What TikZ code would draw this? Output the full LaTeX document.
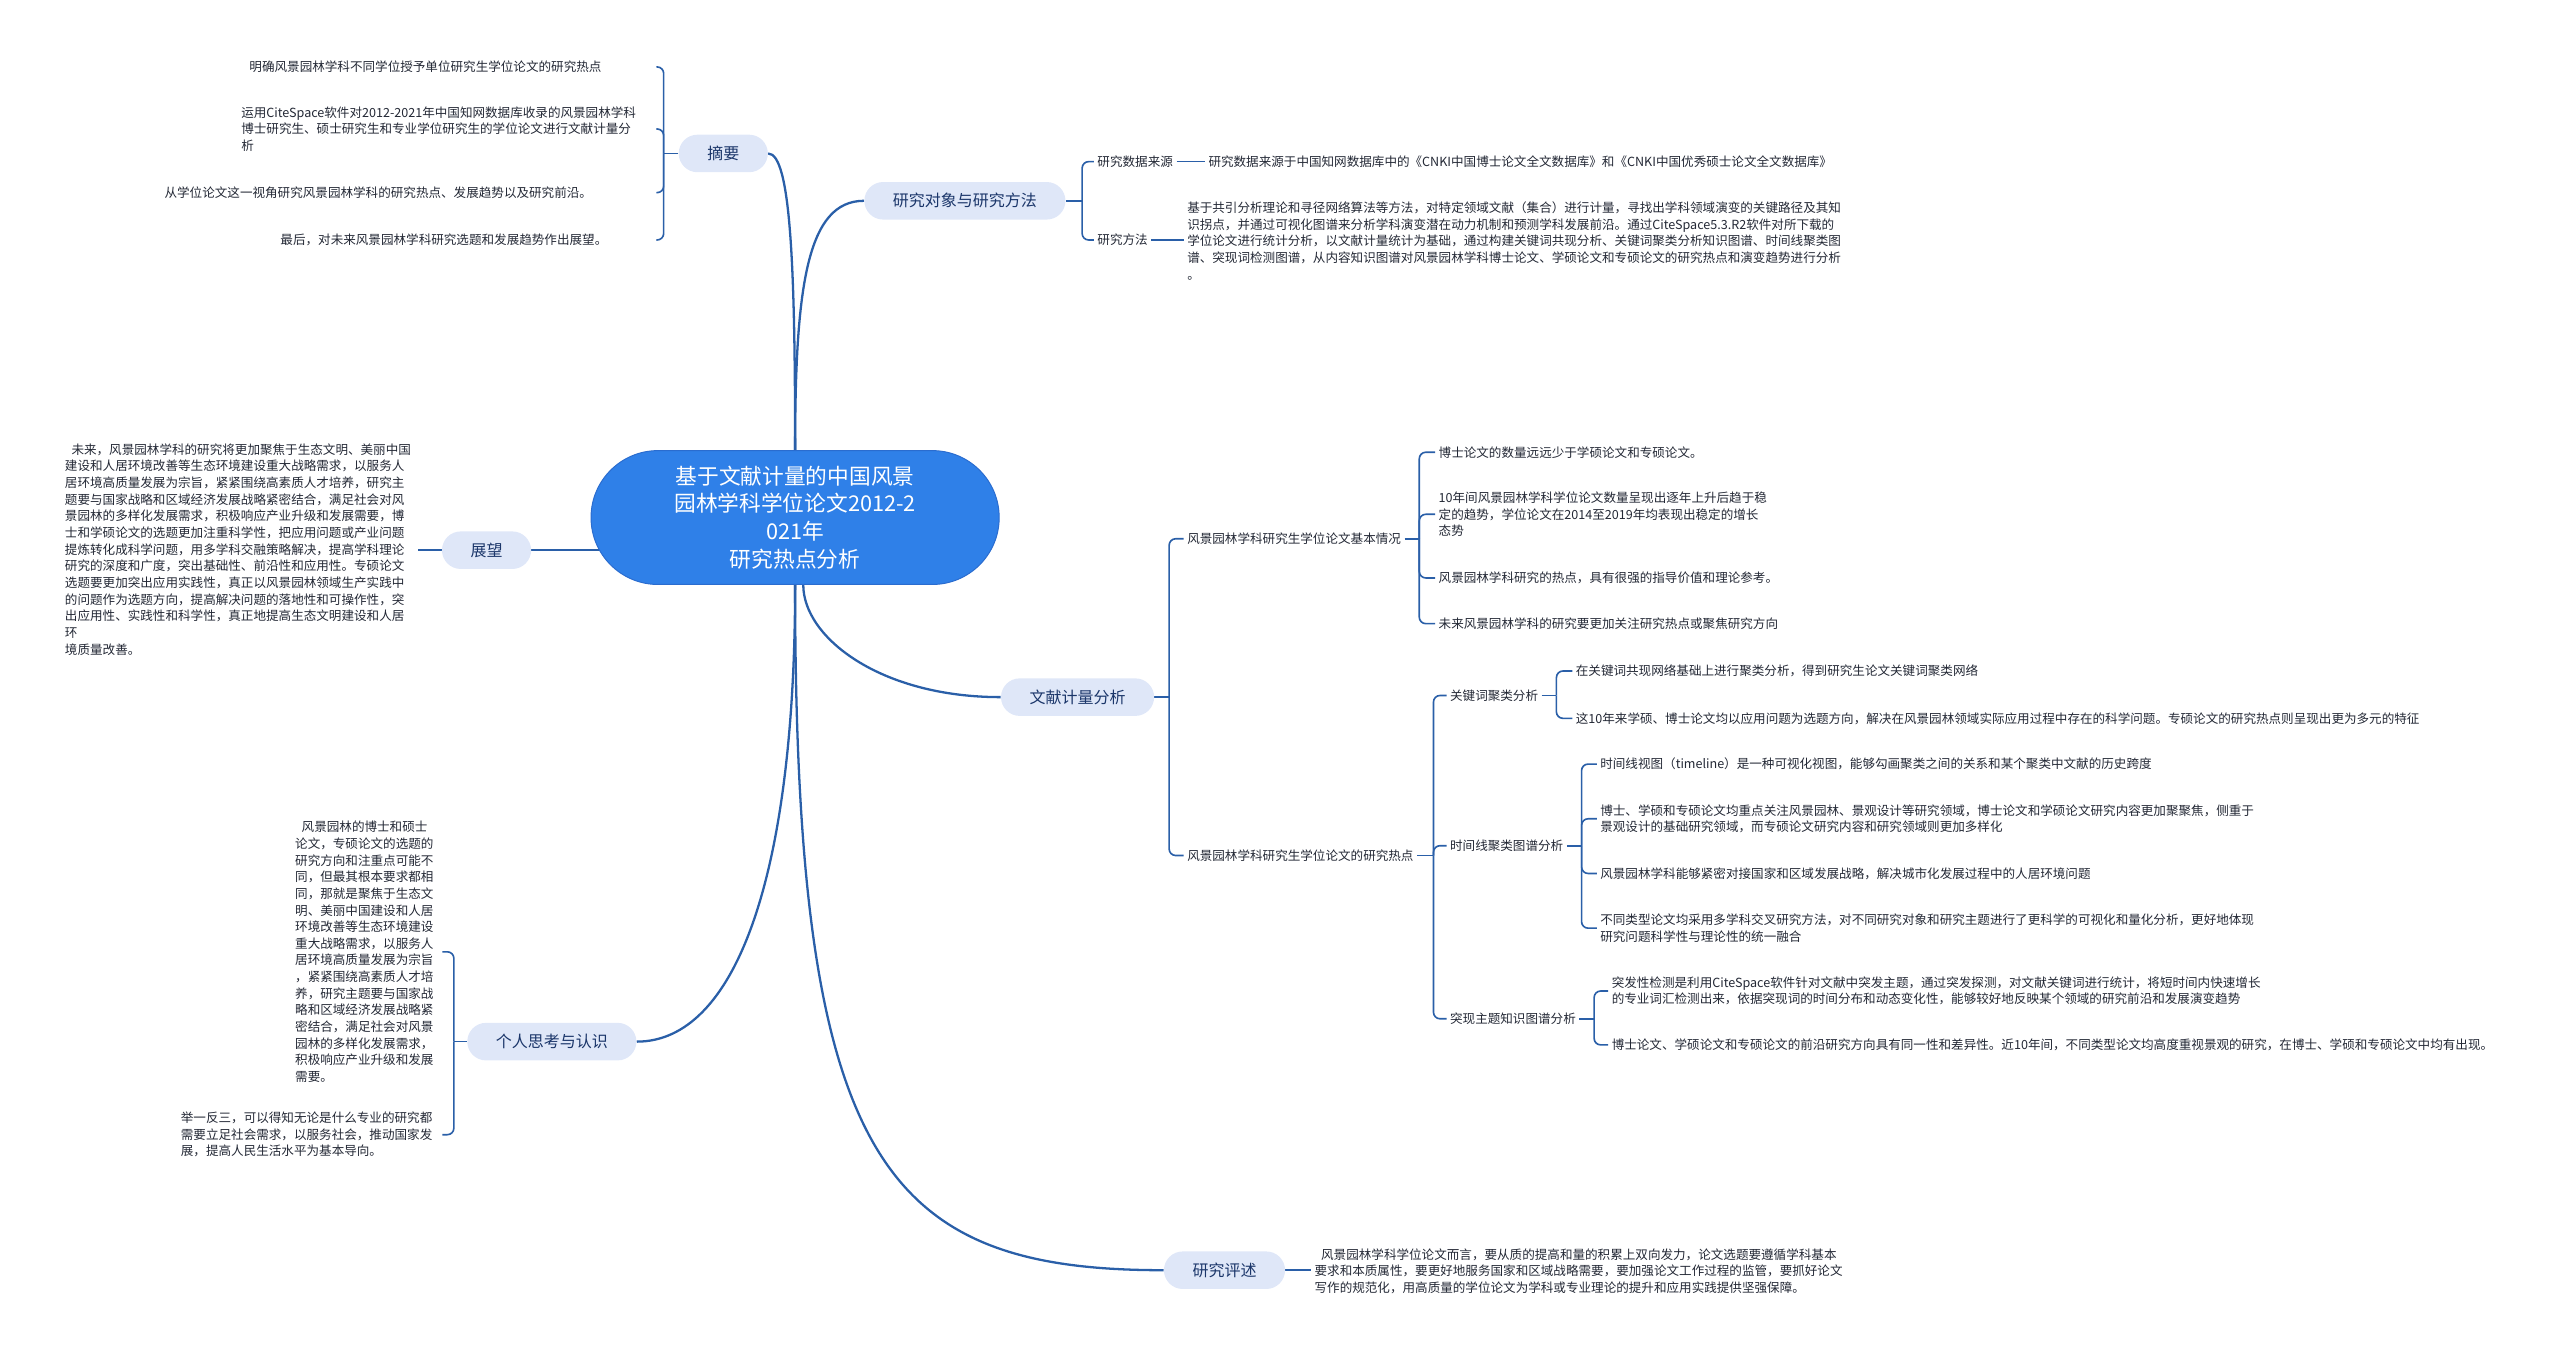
\documentclass[tikz,border=0pt]{standalone}
\usepackage{fontspec}
\setmainfont{Noto Sans CJK SC}
\definecolor{linkblue}{HTML}{2A5FA8}
\definecolor{rootblue}{HTML}{2F80E8}
\definecolor{rootedge}{HTML}{2A6CCF}
\definecolor{topicfill}{HTML}{DFE7F8}
\definecolor{topictext}{HTML}{1B366A}
\definecolor{leafgray}{HTML}{232835}
\pgfdeclarelayer{bg}
\pgfsetlayers{bg,main}

\begin{document}
\begin{tikzpicture}[x=1pt, y=1pt,
  root/.style={fill=rootblue, draw=rootedge, line width=0.6pt, rounded corners=41pt,
    minimum width=250pt, minimum height=82pt, inner sep=0pt, text=white, align=center,
    font=\fontsize{13.3}{17}\selectfont},
  topic/.style={fill=topicfill, rounded corners=11.5pt, minimum height=23pt,
    inner xsep=17.5pt, inner ysep=0pt, text=topictext, font=\fontsize{9.8}{12}\selectfont},
  sub/.style={text=leafgray, inner sep=2pt, font=\fontsize{7.7}{10.2}\selectfont},
  leaf/.style={sub, align=left},
  link/.style={draw=linkblue, line width=1.4pt},
  brace/.style={draw=linkblue, line width=1pt, rounded corners=4pt}]
\useasboundingbox (0,0) rectangle (1568,830);

% centre
\node[root] (root) at (487,513) {基于文献计量的中国风景\\园林学科学位论文2012-2\\021年\\研究热点分析};

% left: abstract
\node[topic] (abs) at (443,736) {摘要};
\node[leaf, anchor=east, text width=247pt] (a1) at (402,789) {明确风景园林学科不同学位授予单位研究生学位论文的研究热点};
\node[leaf, anchor=east, text width=252pt] (a2) at (402,751) {运用CiteSpace软件对2012-2021年中国知网数据库收录的风景园林学科\\博士研究生、硕士研究生和专业学位研究生的学位论文进行文献计量分\\析};
\node[leaf, anchor=east, text width=299pt] (a3) at (402,712) {从学位论文这一视角研究风景园林学科的研究热点、发展趋势以及研究前沿。};
\node[leaf, anchor=east, text width=228pt] (a4) at (402,683) {最后，对未来风景园林学科研究选题和发展趋势作出展望。};

% left: outlook
\node[topic] (out) at (298,493) {展望};
\node[leaf, anchor=east, text width=214pt] (ov) at (256,493.5) {\hspace{4pt}未来，风景园林学科的研究将更加聚焦于生态文明、美丽中国\\
建设和人居环境改善等生态环境建设重大战略需求，以服务人\\
居环境高质量发展为宗旨，紧紧围绕高素质人才培养，研究主\\
题要与国家战略和区域经济发展战略紧密结合，满足社会对风\\
景园林的多样化发展需求，积极响应产业升级和发展需要，博\\
士和学硕论文的选题更加注重科学性，把应用问题或产业问题\\
提炼转化成科学问题，用多学科交融策略解决，提高学科理论\\
研究的深度和广度，突出基础性、前沿性和应用性。专硕论文\\
选题要更加突出应用实践性，真正以风景园林领域生产实践中\\
的问题作为选题方向，提高解决问题的落地性和可操作性，突\\
出应用性、实践性和科学性，真正地提高生态文明建设和人居\\
环\\
境质量改善。};

% left: personal view
\node[topic] (pers) at (338,192) {个人思考与认识};
\node[leaf, anchor=east, text width=88pt] (p1) at (271,247) {\hspace{4pt}风景园林的博士和硕士\\
论文，专硕论文的选题的\\
研究方向和注重点可能不\\
同，但最其根本要求都相\\
同，那就是聚焦于生态文\\
明、美丽中国建设和人居\\
环境改善等生态环境建设\\
重大战略需求，以服务人\\
居环境高质量发展为宗旨\\
，紧紧围绕高素质人才培\\
养，研究主题要与国家战\\
略和区域经济发展战略紧\\
密结合，满足社会对风景\\
园林的多样化发展需求，\\
积极响应产业升级和发展\\
需要。};
\node[leaf, anchor=east, text width=158pt] (p2) at (271,135) {举一反三，可以得知无论是什么专业的研究都\\
需要立足社会需求，以服务社会，推动国家发\\
展，提高人民生活水平为基本导向。};

% right: data and method
\node[topic] (obj) at (591,707) {研究对象与研究方法};
\node[sub, anchor=west] (src) at (670,731) {研究数据来源};
\node[sub, anchor=west] (meth) at (670,683) {研究方法};
\node[leaf, anchor=west] (srcL) at (738,731) {研究数据来源于中国知网数据库中的《CNKI中国博士论文全文数据库》和《CNKI中国优秀硕士论文全文数据库》};
\node[leaf, anchor=west] (methL) at (725,682.5) {基于共引分析理论和寻径网络算法等方法，对特定领域文献（集合）进行计量，寻找出学科领域演变的关键路径及其知\\
识拐点，并通过可视化图谱来分析学科演变潜在动力机制和预测学科发展前沿。通过CiteSpace5.3.R2软件对所下载的\\
学位论文进行统计分析，以文献计量统计为基础，通过构建关键词共现分析、关键词聚类分析知识图谱、时间线聚类图\\
谱、突现词检测图谱，从内容知识图谱对风景园林学科博士论文、学硕论文和专硕论文的研究热点和演变趋势进行分析\\
。};

% right: bibliometrics
\node[topic] (bib) at (660,403) {文献计量分析};
\node[sub, anchor=west] (b1) at (725,500) {风景园林学科研究生学位论文基本情况};
\node[leaf, anchor=west] (c1) at (879,553) {博士论文的数量远远少于学硕论文和专硕论文。};
\node[leaf, anchor=west] (c2) at (879,515) {10年间风景园林学科学位论文数量呈现出逐年上升后趋于稳\\定的趋势，学位论文在2014至2019年均表现出稳定的增长\\态势};
\node[leaf, anchor=west] (c3) at (879,476) {风景园林学科研究的热点，具有很强的指导价值和理论参考。};
\node[leaf, anchor=west] (c4) at (879,448) {未来风景园林学科的研究要更加关注研究热点或聚焦研究方向};

\node[sub, anchor=west] (b2) at (725,306) {风景园林学科研究生学位论文的研究热点};
\node[sub, anchor=west] (d1) at (886,404) {关键词聚类分析};
\node[sub, anchor=west] (d2) at (886,312) {时间线聚类图谱分析};
\node[sub, anchor=west] (d3) at (886,206) {突现主题知识图谱分析};
\node[leaf, anchor=west] (e1) at (963,419) {在关键词共现网络基础上进行聚类分析，得到研究生论文关键词聚类网络};
\node[leaf, anchor=west] (e2) at (963,390) {这10年来学硕、博士论文均以应用问题为选题方向，解决在风景园林领域实际应用过程中存在的科学问题。专硕论文的研究热点则呈现出更为多元的特征};
\node[leaf, anchor=west] (f1) at (978,362) {时间线视图（timeline）是一种可视化视图，能够勾画聚类之间的关系和某个聚类中文献的历史跨度};
\node[leaf, anchor=west] (f2) at (978,328.5) {博士、学硕和专硕论文均重点关注风景园林、景观设计等研究领域，博士论文和学硕论文研究内容更加聚聚焦，侧重于\\景观设计的基础研究领域，而专硕论文研究内容和研究领域则更加多样化};
\node[leaf, anchor=west] (f3) at (978,295) {风景园林学科能够紧密对接国家和区域发展战略，解决城市化发展过程中的人居环境问题};
\node[leaf, anchor=west] (f4) at (978,261.5) {不同类型论文均采用多学科交叉研究方法，对不同研究对象和研究主题进行了更科学的可视化和量化分析，更好地体现\\研究问题科学性与理论性的统一融合};
\node[leaf, anchor=west] (g1) at (985,223) {突发性检测是利用CiteSpace软件针对文献中突发主题，通过突发探测，对文献关键词进行统计，将短时间内快速增长\\的专业词汇检测出来，依据突现词的时间分布和动态变化性，能够较好地反映某个领域的研究前沿和发展演变趋势};
\node[leaf, anchor=west] (g2) at (985,190) {博士论文、学硕论文和专硕论文的前沿研究方向具有同一性和差异性。近10年间，不同类型论文均高度重视景观的研究，在博士、学硕和专硕论文中均有出现。};

% right: review
\node[topic] (rev) at (750,52) {研究评述};
\node[leaf, anchor=west] (revL) at (803,51.5) {\hspace{4pt}风景园林学科学位论文而言，要从质的提高和量的积累上双向发力，论文选题要遵循学科基本\\
要求和本质属性，要更好地服务国家和区域战略需要，要加强论文工作过程的监管，要抓好论文\\
写作的规范化，用高质量的学位论文为学科或专业理论的提升和应用实践提供坚强保障。};

\begin{pgfonlayer}{bg}
% main branches
\draw[link] (abs.east) .. controls +(14,0) and +(0,110) .. (root.north);
\draw[link] (root.north) .. controls +(0,100) and +(-35,0) .. (obj.west);
\draw[link] (out.east) -- (root.center |- out.east);
\draw[link] (root.south) .. controls +(0,-180) and +(60,0) .. (pers.east);
\draw[link] ([xshift=5pt]root.south) .. controls +(0,-32) and +(-74,0) .. (bib.west);
\draw[link] (root.south) .. controls +(0,-352) and +(-173,0) .. (rev.west);

% brackets
\draw[brace] (abs.west) -- ++(-9,0) coordinate (jabs);
\foreach \n in {a1,a2,a3,a4} \draw[brace] (jabs) |- (\n.east);
\draw[brace] (out.west) -- (out.west -| ov.east);
\draw[brace] (pers.west) -- ++(-8,0) coordinate (jpers);
\foreach \n in {p1,p2} \draw[brace] (jpers) |- (\n.east);
\draw[brace] (obj.east) -- ++(10,0) coordinate (jobj);
\foreach \n in {src,meth} \draw[brace] (jobj) |- (\n.west);
\draw[brace] (src.east) -- (src.east -| srcL.west);
\draw[brace] (meth.east) -- (meth.east -| methL.west);
\draw[brace] (bib.east) -- ++(9,0) coordinate (jbib);
\foreach \n in {b1,b2} \draw[brace] (jbib) |- (\n.west);
\draw[brace] (b1.east) -- ++(9,0) coordinate (jb1);
\foreach \n in {c1,c2,c3,c4} \draw[brace] (jb1) |- (\n.west);
\draw[brace] (b2.east) -- ++(10,0) coordinate (jb2);
\foreach \n in {d1,d2,d3} \draw[brace] (jb2) |- (\n.west);
\draw[brace] (d1.east) -- ++(9,0) coordinate (jd1);
\foreach \n in {e1,e2} \draw[brace] (jd1) |- (\n.west);
\draw[brace] (d2.east) -- ++(9,0) coordinate (jd2);
\foreach \n in {f1,f2,f3,f4} \draw[brace] (jd2) |- (\n.west);
\draw[brace] (d3.east) -- ++(9,0) coordinate (jd3);
\foreach \n in {g1,g2} \draw[brace] (jd3) |- (\n.west);
\draw[brace] (rev.east) -- (rev.east -| revL.west);
\end{pgfonlayer}
\end{tikzpicture}
\end{document}
